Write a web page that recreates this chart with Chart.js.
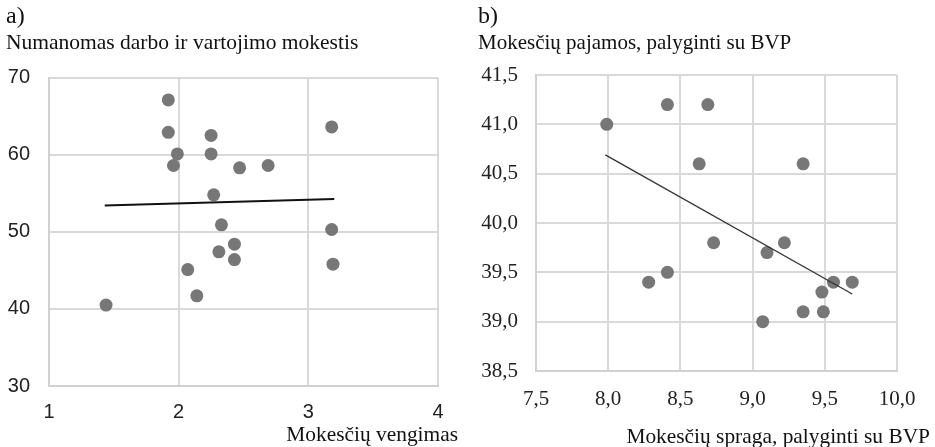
<!DOCTYPE html>
<html>
<head>
<meta charset="utf-8">
<script src="https://cdn.jsdelivr.net/npm/chart.js@4"></script>
<style>
  body { margin: 0; background: #fff; }
  .wrap { position: absolute; top: 0; height: 447px; }
  #a { left: 0; width: 465px; }
  #b { left: 465px; width: 470px; }
</style>
</head>
<body>
<div class="wrap" id="a"><canvas id="chartA"></canvas></div>
<div class="wrap" id="b"><canvas id="chartB"></canvas></div>
<script>
// a) Mokesčių vengimas vs numanomas mokestis
const evasion = [1.92, 1.92, 1.99, 1.96, 2.25, 2.25, 2.47, 2.69, 2.27, 2.33, 2.43, 2.31, 2.43, 2.07, 2.14, 1.44, 3.18, 3.18, 3.19];
const implicitTax = [67.1, 62.9, 60.1, 58.6, 62.5, 60.1, 58.3, 58.6, 54.8, 50.9, 48.4, 47.4, 46.4, 45.1, 41.7, 40.5, 63.6, 50.3, 45.8];
const trendA_x = [1.43, 3.20];
const trendA_y = [53.4, 54.25];

// b) Mokesčių spraga vs pajamos
const taxGap = [7.99, 8.41, 8.69, 8.63, 9.35, 8.73, 9.22, 9.10, 8.41, 8.28, 9.56, 9.69, 9.48, 9.35, 9.49, 9.07];
const taxRevenue = [41.0, 41.2, 41.2, 40.6, 40.6, 39.8, 39.8, 39.7, 39.5, 39.4, 39.4, 39.4, 39.3, 39.1, 39.1, 39.0];
const trendB_x = [7.98, 9.69];
const trendB_y = [40.69, 39.28];

const serif = "'Liberation Serif', 'Times New Roman', serif";
const sans = "'Liberation Sans', Arial, sans-serif";
const gridColor = '#d9d9d9';
const pointColor = '#777777';

const toPts = (xs, ys) => xs.map((x, i) => ({ x, y: ys[i] }));
const comma = v => v.toFixed(1).replace('.', ',');

const xTitle = {
  id: 'xTitle',
  afterDraw(chart, args, opts) {
    const ctx = chart.ctx;
    ctx.save();
    ctx.font = '21.4px ' + serif;
    ctx.fillStyle = '#111';
    ctx.textAlign = 'right';
    ctx.textBaseline = 'middle';
    ctx.fillText(opts.text, chart.width - opts.right, opts.y);
    ctx.restore();
  }
};

function makeChart(id, cfg) {
  return new Chart(document.getElementById(id), {
    type: 'scatter',
    data: {
      datasets: [
        { data: toPts(cfg.tx, cfg.ty), showLine: true, borderColor: cfg.lineColor, borderWidth: cfg.lineWidth, pointRadius: 0, pointHoverRadius: 0 },
        { data: toPts(cfg.x, cfg.y), backgroundColor: pointColor, borderWidth: 0, pointRadius: 6.5, pointHoverRadius: 6.5 }
      ]
    },
    plugins: [xTitle],
    options: {
      responsive: true,
      maintainAspectRatio: false,
      animation: false,
      layout: { padding: { left: cfg.padLeft, right: cfg.padRight, top: 0, bottom: 0 } },
      plugins: {
        legend: { display: false },
        tooltip: { enabled: false },
        title: { display: true, text: cfg.letter, align: 'start', color: '#111', font: { family: serif, size: 24, weight: 'normal' }, padding: { top: 2, bottom: 0 } },
        subtitle: { display: true, text: cfg.subtitle, align: 'start', color: '#111', font: { family: serif, size: cfg.subSize, weight: 'normal' }, padding: { top: 0, bottom: cfg.subPad } },
        xTitle: { text: cfg.xtitle, right: cfg.xtRight, y: cfg.xtY }
      },
      scales: {
        x: {
          type: 'linear', min: cfg.xmin, max: cfg.xmax,
          afterFit: s => { s.height = cfg.xHeight; },
          ticks: { stepSize: cfg.xstep, padding: cfg.xTickPad, color: '#222', font: { family: cfg.tickFont, size: cfg.tickSize }, callback: cfg.fmt },
          grid: { color: gridColor, lineWidth: 2, drawTicks: false },
          border: { color: '#d0d0d0', width: 2 }
        },
        y: {
          type: 'linear', min: cfg.ymin, max: cfg.ymax,
          afterFit: s => { s.width = cfg.yWidth; },
          ticks: { stepSize: cfg.ystep, padding: cfg.yTickPad, color: '#222', font: { family: cfg.tickFont, size: cfg.tickSize }, callback: cfg.fmt },
          grid: { color: gridColor, lineWidth: 2, drawTicks: false },
          border: { color: '#d0d0d0', width: 2 }
        }
      }
    }
  });
}

makeChart('chartA', {
  x: evasion, y: implicitTax, tx: trendA_x, ty: trendA_y,
  lineColor: '#111', lineWidth: 2,
  letter: 'a)', subtitle: 'Numanomas darbo ir vartojimo mokestis', subSize: 21.5, subPad: 21,
  xtitle: 'Mokesčių vengimas', xtRight: 7, xtY: 435,
  xmin: 1, xmax: 4, xstep: 1, ymin: 30, ymax: 70, ystep: 10,
  fmt: v => v, tickFont: sans, tickSize: 20,
  padLeft: 6, padRight: 27, yWidth: 43, xHeight: 61, xTickPad: 14, yTickPad: 19
});

makeChart('chartB', {
  x: taxGap, y: taxRevenue, tx: trendB_x, ty: trendB_y,
  lineColor: '#333', lineWidth: 1.3,
  letter: 'b)', subtitle: 'Mokesčių pajamos, palyginti su BVP', subSize: 21, subPad: 19,
  xtitle: 'Mokesčių spraga, palyginti su BVP', xtRight: 5, xtY: 437,
  xmin: 7.5, xmax: 10, xstep: 0.5, ymin: 38.5, ymax: 41.5, ystep: 0.5,
  fmt: comma, tickFont: serif, tickSize: 21,
  padLeft: 13, padRight: 38, yWidth: 58, xHeight: 76, xTickPad: 16, yTickPad: 18
});
</script>
</body>
</html>
